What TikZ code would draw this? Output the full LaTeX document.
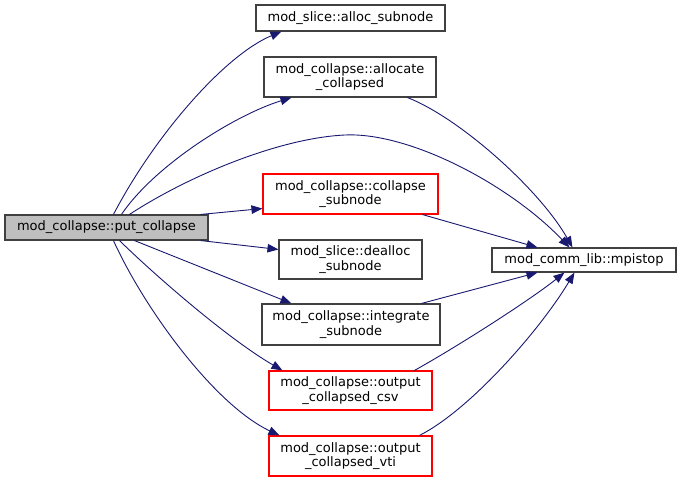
\documentclass[tikz,border=0pt]{standalone}
\usepackage{fontspec}
\setmainfont{DejaVu Sans}
\usetikzlibrary{arrows.meta}
\definecolor{edgecol}{HTML}{191970}
\definecolor{nodeborder}{HTML}{404040}
\definecolor{rootfill}{HTML}{BFBFBF}
\begin{document}
\begin{tikzpicture}[x=1pt,y=-1pt,
  fn/.style={draw=nodeborder, line width=1.1pt, inner sep=0pt, align=center,
    font=\fontsize{13}{14.5}\selectfont},
  redfn/.style={fn, draw=red},
  call/.style={draw=edgecol, line width=0.9pt,
    -{Triangle[length=11pt,width=8.5pt,fill=edgecol]}}]
\useasboundingbox[fill=white] (0,0) rectangle (681,482);
\node[fn, fill=rootfill, minimum width=203pt, minimum height=25pt] (put) at (106.5,227.5) {mod\_collapse::put\_collapse};
\node[fn, minimum width=189pt, minimum height=26pt] (alloc) at (350.5,18) {mod\_slice::alloc\_subnode};
\node[fn, minimum width=172pt, minimum height=40pt] (allocate) at (350,77) {mod\_collapse::allocate\\\_collapsed};
\node[redfn, minimum width=175pt, minimum height=40pt] (collapse) at (350.5,194) {mod\_collapse::collapse\\\_subnode};
\node[fn, minimum width=143pt, minimum height=39pt] (dealloc) at (350.5,259.5) {mod\_slice::dealloc\\\_subnode};
\node[fn, minimum width=178pt, minimum height=41pt] (integrate) at (351,324.5) {mod\_collapse::integrate\\\_subnode};
\node[redfn, minimum width=163pt, minimum height=39pt] (csv) at (350.5,390.5) {mod\_collapse::output\\\_collapsed\_csv};
\node[redfn, minimum width=163pt, minimum height=40pt] (vti) at (350.5,456) {mod\_collapse::output\\\_collapsed\_vti};
\node[fn, minimum width=184pt, minimum height=24pt] (mpi) at (584,260) {mod\_comm\_lib::mpistop};

% from put_collapse
\draw[call] ([xshift=109pt]put.north west) .. controls (155,135) and (225,55) .. ([xshift=26pt]alloc.south west);
\draw[call] ([xshift=117pt]put.north west) .. controls (155,165) and (235,115) .. ([xshift=28pt]allocate.south west);
\draw[call] ([xshift=125pt]put.north west) .. controls (190,175) and (280,138) .. (345,135)
  .. controls (410,132) and (510,185) .. ([xshift=78pt]mpi.north west);
\draw[call] ([xshift=-8pt]put.north east) -- ([yshift=6pt]collapse.south west);
\draw[call] ([xshift=-8pt]put.south east) -- ([yshift=-10pt]dealloc.north west);
\draw[call] ([xshift=130pt]put.south west) -- ([xshift=30pt]integrate.north west);
\draw[call] ([xshift=115pt]put.south west) .. controls (160,280) and (230,340) .. ([xshift=14pt]csv.north west);
\draw[call] ([xshift=109pt]put.south west) .. controls (145,310) and (215,405) .. ([xshift=11pt]vti.north west);

% to mpistop
\draw[call] ([xshift=144pt]allocate.south west) .. controls (460,118) and (540,190) .. ([xshift=81pt]mpi.north west);
\draw[call] ([xshift=160pt]collapse.south west) -- ([xshift=46pt]mpi.north west);
\draw[call] ([xshift=160pt]integrate.north west) -- ([xshift=46pt]mpi.south west);
\draw[call] ([xshift=146pt]csv.north west) .. controls (460,345) and (530,300) .. ([xshift=73pt]mpi.south west);
\draw[call] ([xshift=151pt]vti.north west) .. controls (470,410) and (540,330) .. ([xshift=83pt]mpi.south west);
\end{tikzpicture}
\end{document}
